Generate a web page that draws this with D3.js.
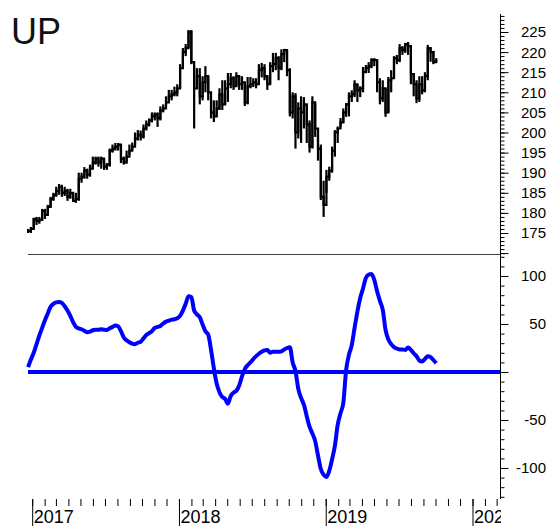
<!DOCTYPE html>
<html>
<head>
<meta charset="utf-8">
<script src="https://cdn.jsdelivr.net/npm/d3@7"></script>
<style>
  body { margin: 0; background: #fff; }
  svg { display: block; font-family: Arial, "Liberation Sans", sans-serif; }
</style>
</head>
<body>
<svg></svg>
<script>
// weekly bars, first week ending 2016-12-23
var firstWeek = '2016-12-23';

var closes = [175.5,
  176,178.5,178,178.3,180.5,179.5,181.5,183.5,184.5,185.5,
  186.5,185,185.5,184,185,183,183.5,188.5,189,190.5,
  189.5,191,192.5,193.5,192.5,193.5,191.5,192,195.5,196,
  196.5,197,193.5,192.5,194,195.5,196.5,198.5,199.5,199,
  201,202,203,204,204.5,203.5,205.5,206,207.5,209,
  209.5,210,211,216,220,221,225,217.5,211,214,
  209,212.5,214,210,205,204,206,209.5,207,211,
  212,213.5,211.5,214,212,212.5,207.5,211.5,212,212.5,
  212,215.5,216,214,212,216.5,217,218.5,216,219.5,
  220.5,215.5,205,209,200,206,205,207,202,196.5,
  207.5,201,196,184,182,189,190.5,195.5,200,201,
  202.5,205,207,209,209.5,212,210.5,211,215,216,
  216.5,218,218,212.5,208.5,211,205,213,213.5,218.5,
  218,221,220.5,222,221.5,214.5,212,208.5,212,210.5,
  214,221,220,217.5,218];

var lows = [175,
  175,176,177,177.3,178,178.5,179.5,181.5,183,184,
  184.5,184,184.2,183,183.5,182.7,182.5,183,187.5,188.5,
  188.5,189,191,192,191.5,191,190.7,190.7,191.5,195,
  195.5,195.5,192.4,192,192.5,194.5,195.5,197,198,198,
  198.5,200.5,201.5,202.5,203,201.4,203,205,206.5,208,
  208,209,209,211,216,219,221,217,201,211,
  207,208,210,208,203.5,202.6,204,205.6,205.6,207,
  207.6,211,210.6,211.5,210.6,210.6,206.6,207,211,211.3,
  211,212,213.7,213,210.6,212,215,215.5,213,215.5,
  217.5,214,204,203.5,196,198.5,197.4,201,197.4,195,
  196,198.9,193,183.2,179,185,188,190,194,197.4,
  201.4,202.4,203.9,204,207.6,208.8,207.6,208.8,210,214.8,
  214.8,216,216.5,210,207,207.6,203.9,205,210,213.5,
  217,217.5,219.3,219.8,219.3,212,209,207.3,207.6,209.5,
  210,213,217.6,217,217.5];

var highs = [176,
  176.5,178.7,179,179,181,181,182,184,185,186.5,
  187.2,187,186.5,186,186,185,185,190,190,191.4,
  191,192,194,194,194,194,193,192.4,196,197,
  197.4,197.4,197,194,195.5,197,197.5,200,200.6,200.5,
  202,203,203.5,205,205,205,206.5,207,209,210.6,
  210.6,211.4,212,217,221,222,225.5,225.5,216.5,216,
  216,214,216.5,214,208,208,208,211,213,213,
  214.8,214.8,214,215,214,214,212.5,213.8,213.8,213.5,
  213.5,217,217.3,217,214,217.5,219.8,219.8,219,220.7,
  220.8,220.5,216,210,209.8,207.5,209,208.8,207,203,
  209,207.3,201,197,188,190.7,191.5,196.5,200.6,201.5,
  203.6,206,207.3,210,210.5,213,212,211.5,216.3,216.8,
  217.5,218.5,218.5,218,213.5,213,211,213.8,215.5,219,
  219.3,222,221.5,222.3,222.5,221.5,214.8,213,214,214,
  215,221.8,221.2,220.3,218.5];

var oscillator = [5,
  13,20,29,38,46,54,61,68,71,72.5,
  73,72,68.5,64,58.5,52,47,45.5,44.5,43,
  41.5,42,43.5,44,44,44.5,44,43.7,45.5,47,
  48.5,47.5,42.5,36,33,31,29.5,29,30.5,31.5,
  35,38.5,40.5,42.5,46,47,48,50.5,52.5,53.5,
  54.5,55,56,58.5,64,71,79,78,64,60,
  57,49.5,42.5,39,23,4,-12,-21,-26,-28,
  -33,-25,-21.5,-19.5,-14,-4.5,3,7,10,13.5,
  16.5,19,21,22.5,23,20,21,21,21,21.5,
  23.5,25,25.7,10,1,-17.5,-27,-34,-46,-57,
  -64,-72,-87,-101,-107,-109.5,-103,-91,-77,-55,
  -43,-32,2,18,28,46,63,77,87,98,
  101.5,102,96,84,74,65,44,34,29,26,
  24.5,23.5,23.5,23,25.5,23,19.5,16.5,12,11,
  13.5,16.5,15.5,12.5,9];

var priceTicks = [175, 180, 185, 190, 195, 200, 205, 210, 215, 220, 225];
var oscTicks = [100, 50, -50, -100];

var width = 546, height = 526;
var svg = d3.select('svg').attr('width', width).attr('height', height);

var start = d3.isoParse(firstWeek + 'T00:00:00');
var dates = closes.map(function(d, i){ return d3.timeDay.offset(start, 7 * i); });

var x = d3.scaleTime()
  .domain([new Date(2017, 0, 1), new Date(2020, 0, 1)])
  .range([31.7, 472]);
var yP = d3.scaleLinear().domain([175, 225]).range([233, 32]);
var yO = d3.scaleLinear().domain([-100, 100]).range([468, 276]);

var axisX = 500, left = 28;

// title
svg.append('text')
  .attr('x', 11).attr('y', 44)
  .attr('font-size', 36)
  .attr('fill', '#111')
  .text('UP');

// separator between panels
svg.append('line')
  .attr('x1', left).attr('x2', axisX)
  .attr('y1', 254.5).attr('y2', 254.5)
  .attr('stroke', '#444').attr('stroke-width', 1);

// price: weekly ranges + step line of closes
var gPrice = svg.append('g');
gPrice.selectAll('line')
  .data(closes)
  .enter()
  .append('line')
  .attr('x1', (d, i) => x(dates[i]))
  .attr('x2', (d, i) => x(dates[i]))
  .attr('y1', (d, i) => yP(lows[i]))
  .attr('y2', (d, i) => yP(highs[i]))
  .attr('stroke', '#000')
  .attr('stroke-width', 2.2);

var step = d3.line()
  .x((d, i) => x(dates[i]))
  .y(d => yP(d))
  .curve(d3.curveStepAfter);
gPrice.append('path')
  .datum(closes)
  .attr('d', step)
  .attr('fill', 'none')
  .attr('stroke', '#000')
  .attr('stroke-width', 2.2);

// oscillator
svg.append('line')
  .attr('x1', left).attr('x2', axisX)
  .attr('y1', yO(0)).attr('y2', yO(0))
  .attr('stroke', '#0000ff').attr('stroke-width', 4);

var oscLine = d3.line()
  .x((d, i) => x(dates[i]))
  .y(d => yO(d))
  .curve(d3.curveMonotoneX);
svg.append('path')
  .datum(oscillator)
  .attr('d', oscLine)
  .attr('fill', 'none')
  .attr('stroke', '#0000ff')
  .attr('stroke-width', 4)
  .attr('stroke-linejoin', 'round');

// right axis line
svg.append('line')
  .attr('x1', axisX + 0.5).attr('x2', axisX + 0.5)
  .attr('y1', 14).attr('y2', 499)
  .attr('stroke', '#000');

function ticksRight(scale, values, size){
  var g = svg.append('g')
    .attr('transform', 'translate(' + (axisX + 0.5) + ',0)')
    .call(d3.axisRight(scale).tickValues(values).tickSize(size).tickFormat(''));
  g.select('.domain').remove();
  g.selectAll('line').attr('stroke', '#000');
  return g;
}

ticksRight(yP, d3.range(170, 230, 1), 4);
ticksRight(yP, d3.range(170, 230, 5), 8);
ticksRight(yO, d3.range(-130, 130, 10), 4);
ticksRight(yO, d3.range(-100, 101, 50), 8);

function labelsRight(scale, values){
  svg.append('g').selectAll('text')
    .data(values)
    .enter()
    .append('text')
    .attr('x', 546)
    .attr('y', d => scale(d))
    .attr('dy', '0.36em')
    .attr('text-anchor', 'end')
    .attr('font-size', 15)
    .attr('fill', '#000')
    .text(d => d);
}
labelsRight(yP, priceTicks);
labelsRight(yO, oscTicks);

// time axis
svg.append('clipPath').attr('id', 'xclip')
  .append('rect').attr('x', left - 1).attr('y', 490).attr('width', axisX - left + 2).attr('height', 40);

var gX = svg.append('g').attr('clip-path', 'url(#xclip)');
var months = d3.timeMonth.range(new Date(2016, 11, 1), new Date(2020, 3, 1))
  .filter(d => x(d) >= left && x(d) <= axisX);
var years = d3.timeYear.range(new Date(2017, 0, 1), new Date(2021, 0, 1));

var axM = gX.append('g').attr('transform', 'translate(0,499)')
  .call(d3.axisBottom(x).tickValues(months).tickSize(7).tickFormat(''));
axM.select('.domain').remove();
axM.selectAll('line').attr('stroke', '#000').attr('transform', 'translate(0.5,0)');

var axY = gX.append('g').attr('transform', 'translate(0,499)')
  .call(d3.axisBottom(x).tickValues(years).tickSize(28).tickFormat(''));
axY.select('.domain').remove();
axY.selectAll('line').attr('stroke', '#000').attr('transform', 'translate(0.5,0)');

gX.selectAll('.yearLabel')
  .data(years)
  .enter()
  .append('text')
  .classed('yearLabel', true)
  .attr('x', d => x(d) + 2)
  .attr('y', 523)
  .attr('font-size', 18)
  .attr('fill', '#000')
  .text(d3.timeFormat('%Y'));
</script>
</body>
</html>
